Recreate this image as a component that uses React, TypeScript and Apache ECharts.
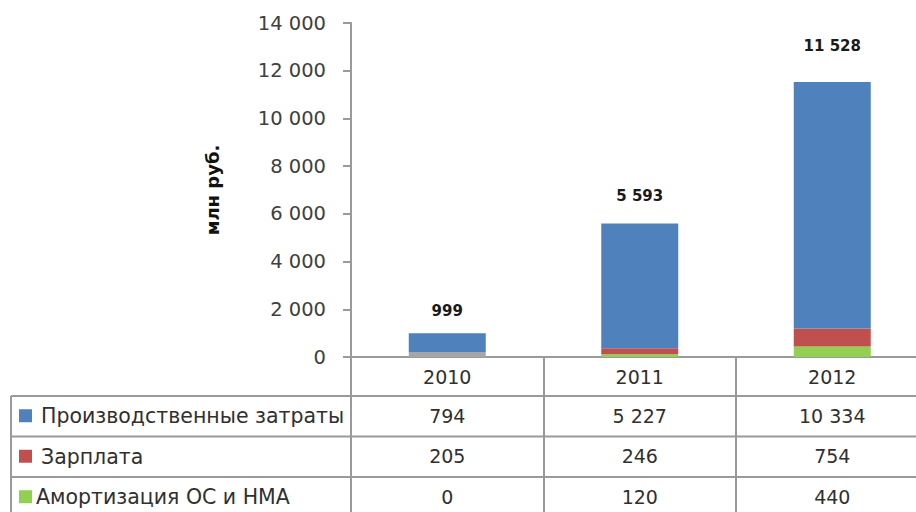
import React, { useEffect, useRef } from "react";
import * as echarts from "echarts";

const years = ["2010", "2011", "2012"];
const seriesNames = ["Производственные затраты", "Зарплата", "Амортизация ОС и НМА"];
const production = [794, 5227, 10334];
const salary = [205, 246, 754];
const depreciation = [0, 120, 440];
const yTicks = [0, 2000, 4000, 6000, 8000, 10000, 12000, 14000];
const colors = ["#4F81BD", "#C0504D", "#92D050"];

const fmt = (n: number) => String(n).replace(/\B(?=(\d{3})+(?!\d))/g, " ");
const FONT = "DejaVu Sans";

export default function App() {
  const ref = useRef<HTMLDivElement>(null);
  useEffect(() => {
    if (!ref.current) return;
    const chart = echarts.init(ref.current, null, { renderer: "svg" });
    const rows = [production, salary, depreciation];
    const totals = years.map((_, i) => production[i] + salary[i] + depreciation[i]);
    const gridTop = 23;
    const gridBottomY = 357;
    const rowH = 40.5;
    const lineColor = "#9a9a9a";

    const extraAxes = rows.map((row, k) => ({
      type: "category",
      data: years,
      position: "bottom",
      offset: 39 + k * rowH,
      axisLine: { show: false },
      axisTick: { show: false },
      axisLabel: {
        margin: 10,
        fontFamily: FONT,
        fontSize: 19,
        color: "#303030",
        formatter: (_v: string, idx: number) => fmt(row[idx]),
      },
    }));

    const graphics: any[] = [];
    for (let k = 0; k < 3; k++) {
      const y = gridBottomY + 39 + k * rowH;
      graphics.push({
        type: "line",
        shape: { x1: 11, y1: y, x2: 916, y2: y },
        style: { stroke: lineColor, lineWidth: 2 },
      });
    }
    graphics.push({
      type: "line",
      shape: { x1: 11, y1: gridBottomY + 39, x2: 11, y2: 512 },
      style: { stroke: lineColor, lineWidth: 2 },
    });
    seriesNames.forEach((name, k) => {
      const cy = gridBottomY + 39 + k * rowH + rowH / 2;
      graphics.push({
        type: "rect",
        shape: { x: 19, y: cy - 7, width: 13, height: 13 },
        style: { fill: colors[k] },
      });
      graphics.push({
        type: "text",
        x: k === 2 ? 36 : 41,
        y: cy,
        style: {
          text: name,
          fontFamily: FONT,
          fontSize: 20.5,
          fill: "#303030",
          verticalAlign: "middle",
          align: "left",
        },
      });
    });

    chart.setOption({
      animation: false,
      grid: {
        left: 351,
        top: gridTop,
        right: -12.5,
        bottom: 512 - gridBottomY,
        outerBoundsMode: "none",
        containLabel: false,
      },
      xAxis: [
        {
          type: "category",
          data: years,
          position: "bottom",
          axisLine: { show: true, lineStyle: { color: lineColor, width: 2 } },
          axisTick: {
            show: true,
            alignWithLabel: false,
            length: 160,
            lineStyle: { color: lineColor, width: 2 },
          },
          axisLabel: { margin: 10, fontFamily: FONT, fontSize: 19, color: "#303030" },
        },
        ...extraAxes,
      ],
      yAxis: {
        type: "value",
        min: yTicks[0],
        max: yTicks[yTicks.length - 1],
        interval: yTicks[1] - yTicks[0],
        name: "млн руб.",
        nameLocation: "middle",
        nameRotate: 90,
        nameGap: 130,
        nameTextStyle: { fontFamily: FONT, fontSize: 18, fontWeight: "bold", color: "#111" },
        axisLine: { show: true, lineStyle: { color: lineColor, width: 2 } },
        axisTick: { show: true, length: 8, lineStyle: { color: lineColor, width: 2 } },
        axisLabel: {
          margin: 25,
          fontFamily: FONT,
          fontSize: 19.5,
          color: "#404040",
          formatter: (v: number) => fmt(v),
        },
        splitLine: { show: false },
      },
      series: [
        {
          name: seriesNames[2],
          type: "bar",
          stack: "total",
          barWidth: 77,
          itemStyle: { color: colors[2] },
          data: depreciation,
        },
        {
          name: seriesNames[1],
          type: "bar",
          stack: "total",
          barWidth: 77,
          itemStyle: { color: colors[1] },
          data: salary.map((v, i) => (i === 0 ? { value: v, itemStyle: { color: "#A6A6A6" } } : v)),
        },
        {
          name: seriesNames[0],
          type: "bar",
          stack: "total",
          barWidth: 77,
          itemStyle: { color: colors[0] },
          data: production.map((v, i) => ({
            value: v,
            label: { distance: 13 + totals[i] * 0.0013 },
          })),
          label: {
            show: true,
            position: "top",
            fontFamily: FONT,
            fontSize: 15,
            fontWeight: "bold",
            color: "#1a1a1a",
            formatter: (p: any) => fmt(totals[p.dataIndex]),
          },
        },
      ],
      graphic: graphics,
    });
    return () => chart.dispose();
  }, []);
  return <div ref={ref} style={{ width: 916, height: 512, position: "absolute", left: 0, top: 0 }} />;
}
